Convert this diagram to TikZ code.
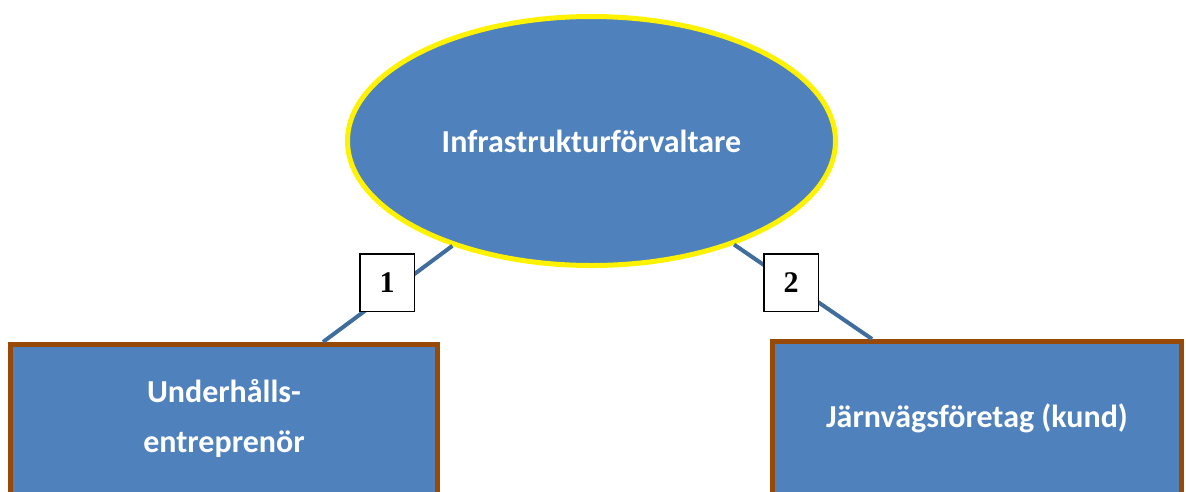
\documentclass[tikz,border=0pt]{standalone}
\usepackage{fontspec}
\setmainfont{Carlito}
\newfontfamily\numfont{Liberation Serif}
\usetikzlibrary{shapes.geometric}
\definecolor{fillblue}{HTML}{4F81BD}
\definecolor{edgebrown}{HTML}{984807}
\definecolor{linkblue}{HTML}{3F6D9E}
\tikzset{
  partybox/.style={draw=edgebrown, line width=5pt, fill=fillblue, anchor=north,
    inner sep=0pt, minimum height=200pt},
  partytext/.style={text=white, font=\fontsize{32}{50}\selectfont\bfseries,
    align=center, inner sep=0pt},
  link/.style={draw=linkblue, line width=4pt},
  numbox/.style={draw=black, line width=1.5pt, fill=white, inner sep=0pt,
    minimum width=54.5pt, minimum height=57.5pt,
    font=\numfont\fontsize{30}{30}\selectfont\bfseries}
}
\begin{document}
\begin{tikzpicture}[x=1pt, y=-1pt]
  \useasboundingbox (0,0) rectangle (1186,491);
  \clip (0,0) rectangle (1186,491);

  % central manager
  \node[ellipse, draw=yellow, line width=5pt, fill=fillblue, text=white,
    inner sep=0pt, minimum width=488pt, minimum height=249pt,
    font=\fontsize{32}{38}\selectfont\bfseries] (infra) at (591.5,141) {Infrastrukturförvaltare};

  % the two parties below (their lower edges run off the page)
  \node[partybox, minimum width=427pt] (ue) at (224,342) {};
  \node[partytext] (uetext) at ([yshift=-76pt]ue.north) {Underhålls-\\entreprenör};
  \node[partybox, minimum width=409pt] (jf) at (977,339) {};
  \node[partytext] (jftext) at ([yshift=-79pt]jf.north) {Järnvägsföretag (kund)};

  % relations
  \draw[link] (infra.217.3) -- ([xshift=99pt]ue.north);
  \draw[link] (infra.324.6) -- ([xshift=-105pt]jf.north);

  % relation numbers
  \node[numbox] (n1) at (387,282.5) {1};
  \node[numbox] (n2) at (791,282.5) {2};
\end{tikzpicture}
\end{document}
